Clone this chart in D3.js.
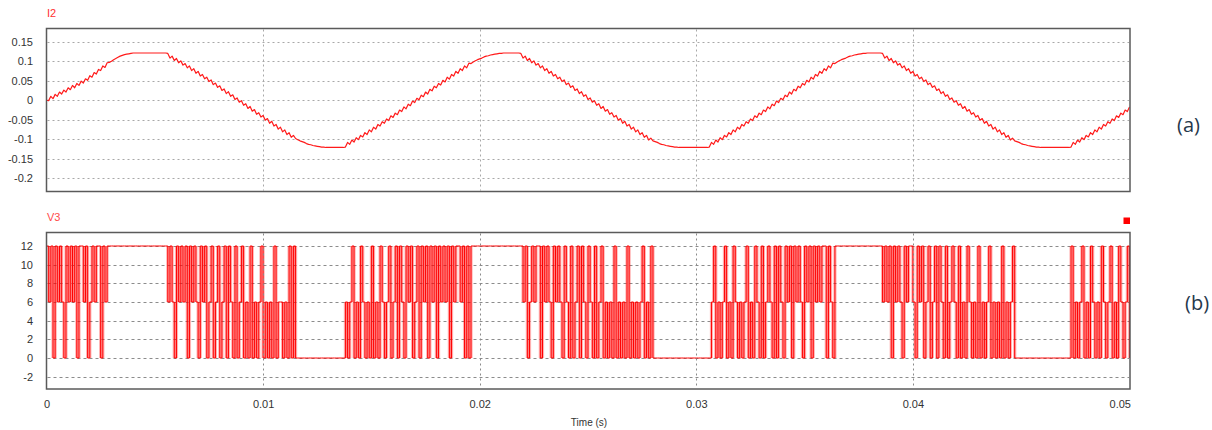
<!DOCTYPE html>
<html>
<head>
<meta charset="utf-8">
<script src="https://cdn.jsdelivr.net/npm/d3@7"></script>
<style>
  body { margin: 0; background: #ffffff; }
  svg { display: block; font-family: "Liberation Sans", Arial, sans-serif; }
</style>
</head>
<body>
<svg id="chart" width="1212" height="430"></svg>
<script>
// ---------------- DATA ----------------
const sampleStep = 0.0001; // seconds between samples
const timeTicks = [0, 0.01, 0.02, 0.03, 0.04, 0.05];
const timeTickLabels = ["0", "0.01", "0.02", "0.03", "0.04", "0.05"];
const i2Ticks = [0.15, 0.1, 0.05, 0, -0.05, -0.1, -0.15, -0.2];
const i2TickLabels = ["0.15", "0.1", "0.05", "0", "-0.05", "-0.1", "-0.15", "-0.2"];
const v3Ticks = [12, 10, 8, 6, 4, 2, 0, -2];
const v3TickLabels = ["12", "10", "8", "6", "4", "2", "0", "-2"];

// I2 current, one value per sample, split by half cycle
const i2Rise0 = [0.000,-0.001,0.010,0.004,0.015,0.010,0.021,0.016,0.026,0.021,
  0.032,0.027,0.038,0.032,0.043,0.038,0.049,0.044,0.055,0.051,
  0.063,0.059,0.071,0.067,0.079,0.076,0.088,0.084,0.096,0.097,
  0.100,0.104,0.107,0.110,0.113,0.115,0.117,0.118,0.119,0.120,
  0.121,0.121,0.121,0.121,0.121,0.121,0.121,0.121,0.121,0.121,
  0.121,0.121,0.121,0.121,0.121,0.121];
const i2Fall1 = [0.120,0.108,0.113,0.102,0.107,0.096,0.101,0.090,0.094,0.083,
  0.088,0.076,0.081,0.069,0.074,0.062,0.066,0.055,0.059,0.048,
  0.052,0.040,0.044,0.033,0.037,0.025,0.029,0.017,0.022,0.010,
  0.014,0.002,0.006,-0.005,-0.001,-0.013,-0.009,-0.021,-0.016,-0.028,
  -0.024,-0.036,-0.032,-0.043,-0.039,-0.051,-0.047,-0.059,-0.054,-0.066,
  -0.062,-0.074,-0.069,-0.081,-0.076,-0.088,-0.083,-0.095,-0.090,
  -0.098,-0.101,-0.104,-0.106,-0.108,-0.111,-0.113,-0.114,-0.116,-0.117,
  -0.118,-0.119,-0.120,-0.120,-0.121,
  -0.121,-0.121,-0.121,-0.121,-0.121,-0.121,-0.121,-0.121];
const i2Rise1 = [-0.120,-0.108,-0.113,-0.102,-0.107,-0.096,-0.101,-0.090,-0.094,-0.083,
  -0.088,-0.076,-0.081,-0.069,-0.074,-0.062,-0.066,-0.055,-0.059,-0.048,
  -0.052,-0.040,-0.044,-0.033,-0.037,-0.025,-0.029,-0.017,-0.022,-0.010,
  -0.014,-0.002,-0.006,0.005,0.001,0.013,0.009,0.021,0.016,0.028,
  0.024,0.036,0.032,0.043,0.039,0.051,0.047,0.059,0.054,0.066,
  0.062,0.074,0.069,0.081,0.076,0.088,0.083,0.095,
  0.094,0.098,0.101,0.104,0.106,0.108,0.111,0.113,0.114,0.116,
  0.117,0.118,0.119,0.120,0.120,0.121,
  0.121,0.121,0.121,0.121,0.121,0.121,0.121];
const i2Fall2 = [0.120,0.108,0.113,0.102,0.107,0.096,0.101,0.090,0.094,0.083,
  0.088,0.076,0.081,0.069,0.074,0.062,0.066,0.055,0.059,0.048,
  0.052,0.040,0.044,0.033,0.037,0.025,0.029,0.017,0.022,0.010,
  0.014,0.002,0.006,-0.005,-0.001,-0.013,-0.009,-0.021,-0.016,-0.028,
  -0.024,-0.036,-0.032,-0.043,-0.039,-0.051,-0.047,-0.059,-0.054,-0.066,
  -0.062,-0.074,-0.069,-0.081,-0.076,-0.088,-0.083,-0.095,-0.090,-0.102,
  -0.097,
  -0.104,-0.106,-0.108,-0.111,-0.113,-0.114,-0.116,-0.117,-0.118,-0.119,
  -0.120,-0.120,-0.121,
  -0.121,-0.121,-0.121,-0.121,-0.121,-0.121,-0.121,-0.121,-0.121,-0.121,
  -0.121,-0.121,-0.121];
const i2Rise2 = [-0.120,-0.108,-0.113,-0.102,-0.107,-0.096,-0.101,-0.090,-0.094,-0.083,
  -0.088,-0.076,-0.081,-0.069,-0.074,-0.062,-0.066,-0.055,-0.059,-0.048,
  -0.052,-0.040,-0.044,-0.033,-0.037,-0.025,-0.029,-0.017,-0.022,-0.010,
  -0.014,-0.002,-0.006,0.005,0.001,0.013,0.009,0.021,0.016,0.028,
  0.024,0.036,0.032,0.043,0.039,0.051,0.047,0.059,0.054,0.066,
  0.062,0.074,0.069,0.081,0.076,0.088,0.083,0.095,
  0.094,0.098,0.101,0.104,0.106,0.108,0.111,0.113,0.114,0.116,
  0.117,0.118,0.119,0.120,0.120,0.121,
  0.121,0.121,0.121,0.121,0.121,0.121];
const i2Fall3 = [0.120,0.108,0.113,0.102,0.107,0.096,0.101,0.090,0.094,0.083,
  0.088,0.076,0.081,0.069,0.074,0.062,0.066,0.055,0.059,0.048,
  0.052,0.040,0.044,0.033,0.037,0.025,0.029,0.017,0.022,0.010,
  0.014,0.002,0.006,-0.005,-0.001,-0.013,-0.009,-0.021,-0.016,-0.028,
  -0.024,-0.036,-0.032,-0.043,-0.039,-0.051,-0.047,-0.059,-0.054,-0.066,
  -0.062,-0.074,-0.069,-0.081,-0.076,-0.088,-0.083,-0.095,-0.090,-0.102,
  -0.097,
  -0.104,-0.106,-0.108,-0.111,-0.113,-0.114,-0.116,-0.117,-0.118,-0.119,
  -0.120,-0.120,-0.121,
  -0.121,-0.121,-0.121,-0.121,-0.121,-0.121,-0.121,-0.121,-0.121,-0.121,
  -0.121,-0.121,-0.121];
const i2Rise3 = [-0.120,-0.108,-0.113,-0.102,-0.107,-0.096,-0.101,-0.090,-0.094,-0.083,
  -0.088,-0.076,-0.081,-0.069,-0.074,-0.062,-0.066,-0.055,-0.059,-0.048,
  -0.052,-0.040,-0.044,-0.033,-0.037,-0.025,-0.029,-0.017];

// V3 voltage: switching stretches (one value per sample) and constant holds between them
const v3SwitchA = [12,6,12,0,12,6,12,6,0,12,6,12,6,12,0,12,12,6,12,0,6,12,6,12,12,0,12,6,12];
const v3SwitchB = [6,12,6,0,12,6,12,6,12,0,12,6,12,6,0,12,6,12,0,6,
  12,0,6,12,0,6,12,0,12,6,0,12,0,6,12,0,6,0,12,
  0,6,0,6,12,0,6,0,6,0,12,0,6,6,0,6,0,12,0,12];
const v3SwitchC = [6,0,6,12,0,6,0,12,6,0,6,0,12,0,6,0,12,6,0,6,
  12,0,6,12,0,12,6,0,12,6,12,0,6,12,0,12,6,12,0,
  12,6,12,0,12,6,12,6,12,0,12,6,12,12,6,12,0,12,0];
const v3SwitchD = [12,6,12,0,6,12,6,12,12,0,12,6,12,6,0,12,6,12,6,0,
  12,6,0,12,0,6,12,0,12,6,0,12,6,0,12,0,6,12,0,6,0,
  6,0,12,0,6,0,6,0,12,0,6,0,6,0,6,12,0,6,0,12];
const v3SwitchE = [0,6,12,0,6,0,6,12,0,6,0,12,6,0,6,0,6,12,0,6,
  0,12,6,0,12,0,6,12,6,0,12,0,12,6,0,12,6,12,0,
  12,6,12,6,0,12,6,12,0,12,6,12,6,12,12,0,12,6,0];
const v3SwitchF = [6,12,6,12,0,12,6,12,6,0,12,6,12,12,6,0,12,6,12,0,
  6,12,0,6,12,0,12,6,0,12,0,6,12,6,0,12,0,6,0,12,6,
  0,6,0,12,0,6,0,6,12,0,6,0,6,0,12,0,6,0,6,12];
const v3SwitchG = [12,0,6,0,6,12,0,6,0,12,6,0,6,0,12,6,0,6,12,0,6,0,12,6,0,6,12,0];
const v3HoldLevels = [12, 0, 12, 0, 12, 0];
const v3HoldCounts = [27, 23, 23, 26, 22, 26];

// ---------------- BUILD SERIES ----------------
const i2Values = [].concat(i2Rise0, i2Fall1, i2Rise1, i2Fall2, i2Rise2, i2Fall3, i2Rise3);
const i2Data = i2Values.map((v, i) => [i * sampleStep, v]);

const v3Switches = [v3SwitchA, v3SwitchB, v3SwitchC, v3SwitchD, v3SwitchE, v3SwitchF, v3SwitchG];
let v3Values = [];
v3Switches.forEach((seg, k) => {
  v3Values = v3Values.concat(seg);
  if (k < v3HoldLevels.length) {
    v3Values = v3Values.concat(new Array(v3HoldCounts[k]).fill(v3HoldLevels[k]));
  }
});
const v3Data = v3Values.map((v, i) => [i * sampleStep, v]);
// vertical switching edges (for the dense pink band look of the trace)
const v3Edges = [];
for (let i = 1; i < v3Data.length; i++) {
  if (v3Data[i][1] !== v3Data[i - 1][1]) v3Edges.push({ t: v3Data[i][0], from: v3Data[i - 1][1], to: v3Data[i][1] });
}

// ---------------- DRAW ----------------
const svg = d3.select("#chart");
const boxLeft = 46.5, boxRight = 1130;
const topBox = { y0: 28.5, y1: 191.5 };
const botBox = { y0: 232.5, y1: 389 };

const x = d3.scaleLinear().domain([0, 0.05]).range([46.5, 1129.5]);
const yI = d3.scaleLinear().domain([-0.2, 0.15]).range([178.3, 41.7]);
const yV = d3.scaleLinear().domain([-2, 12]).range([376.7, 246]);

const defs = svg.append("defs");
defs.append("clipPath").attr("id", "clipTop").append("rect")
  .attr("x", boxLeft).attr("y", topBox.y0).attr("width", boxRight - boxLeft).attr("height", topBox.y1 - topBox.y0);
defs.append("clipPath").attr("id", "clipBot").append("rect")
  .attr("x", boxLeft).attr("y", botBox.y0).attr("width", boxRight - boxLeft).attr("height", botBox.y1 - botBox.y0);

function hGrid(g, ticks, yScale, dash, color) {
  g.selectAll("line.hg").data(ticks).join("line")
    .attr("x1", boxLeft + 1).attr("x2", boxRight - 1)
    .attr("y1", d => Math.round(yScale(d)) + 0.5).attr("y2", d => Math.round(yScale(d)) + 0.5)
    .attr("stroke", color).attr("stroke-width", 1).attr("stroke-dasharray", dash);
}
function vGrid(g, box, color) {
  g.selectAll("line.vg").data(timeTicks.slice(1, -1)).join("line")
    .attr("x1", d => Math.round(x(d)) + 0.5).attr("x2", d => Math.round(x(d)) + 0.5)
    .attr("y1", box.y0 + 1).attr("y2", box.y1 - 1)
    .attr("stroke", color).attr("stroke-width", 1).attr("stroke-dasharray", "2,3");
}

// ---- top panel (I2)
const gTop = svg.append("g");
hGrid(gTop.append("g"), i2Ticks, yI, "2,3", "#a8a8a8");
vGrid(gTop.append("g"), topBox, "#a8a8a8");
gTop.append("path")
  .datum(i2Data)
  .attr("clip-path", "url(#clipTop)")
  .attr("fill", "none")
  .attr("stroke", "#ff1a1a")
  .attr("stroke-width", 1.2)
  .attr("stroke-linejoin", "round")
  .attr("d", d3.line().x(d => x(d[0])).y(d => yI(d[1])));
gTop.append("rect")
  .attr("x", boxLeft).attr("y", topBox.y0)
  .attr("width", boxRight - boxLeft).attr("height", topBox.y1 - topBox.y0)
  .attr("fill", "none").attr("stroke", "#5a5a5a").attr("stroke-width", 1.5);

const axI = svg.append("g").attr("transform", "translate(33,0)")
  .call(d3.axisLeft(yI).tickValues(i2Ticks).tickFormat((d, i) => i2TickLabels[i]).tickSize(0).tickPadding(0));
axI.select(".domain").remove();
axI.selectAll("text").attr("font-size", 11).attr("fill", "#333").attr("font-family", "Liberation Sans, Arial, sans-serif");

// ---- bottom panel (V3)
const gBot = svg.append("g");
hGrid(gBot.append("g"), v3Ticks, yV, "3,3", "#8c8c8c");
const gV = gBot.append("g").attr("clip-path", "url(#clipBot)");
gV.selectAll("line.edge").data(v3Edges).join("line")
  .attr("class", "edge")
  .attr("x1", d => x(d.t)).attr("x2", d => x(d.t))
  .attr("y1", d => yV(d.from)).attr("y2", d => yV(d.to))
  .attr("stroke", "#ff0000").attr("stroke-opacity", 0.3).attr("stroke-width", 3.2);
gV.append("path")
  .datum(v3Data)
  .attr("fill", "none")
  .attr("stroke", "#ff0000")
  .attr("stroke-width", 1)
  .attr("d", d3.line().x(d => x(d[0])).y(d => yV(d[1])).curve(d3.curveStepAfter));
vGrid(gBot.append("g"), botBox, "#8a8a8a");
gBot.append("rect")
  .attr("x", boxLeft).attr("y", botBox.y0)
  .attr("width", boxRight - boxLeft).attr("height", botBox.y1 - botBox.y0)
  .attr("fill", "none").attr("stroke", "#5a5a5a").attr("stroke-width", 1.5);

const axV = svg.append("g").attr("transform", "translate(33,0)")
  .call(d3.axisLeft(yV).tickValues(v3Ticks).tickFormat((d, i) => v3TickLabels[i]).tickSize(0).tickPadding(0));
axV.select(".domain").remove();
axV.selectAll("text").attr("font-size", 11).attr("fill", "#333").attr("font-family", "Liberation Sans, Arial, sans-serif");

// ---- x axis labels
const axX = svg.append("g").attr("transform", "translate(0,392)")
  .call(d3.axisBottom(x).tickValues(timeTicks).tickFormat((d, i) => timeTickLabels[i]).tickSize(0).tickPadding(8));
axX.select(".domain").remove();
axX.selectAll("text").attr("font-size", 11).attr("fill", "#333").attr("font-family", "Liberation Sans, Arial, sans-serif");
axX.selectAll(".tick").filter((d, i) => i === timeTicks.length - 1).select("text")
  .attr("text-anchor", "end").attr("x", 1);

svg.append("text").attr("x", 589).attr("y", 425.5).attr("text-anchor", "middle")
  .attr("font-size", 10).attr("fill", "#333").text("Time (s)");

// ---- titles and panel labels
svg.append("text").attr("x", 47).attr("y", 17).attr("font-size", 11).attr("fill", "#ff3030").text("I2");
svg.append("text").attr("x", 47).attr("y", 221).attr("font-size", 11).attr("fill", "#ff4a4a").text("V3");
svg.append("rect").attr("x", 1123.5).attr("y", 217.5).attr("width", 6.5).attr("height", 6.5).attr("fill", "#ff0000");

svg.append("text").attr("x", 1177).attr("y", 132).attr("font-size", 20)
  .attr("font-family", "Open Sans, sans-serif").attr("fill", "#26384c").text("(a)");
svg.append("text").attr("x", 1185).attr("y", 310).attr("font-size", 20)
  .attr("font-family", "Open Sans, sans-serif").attr("fill", "#26384c").text("(b)");
</script>
</body>
</html>
